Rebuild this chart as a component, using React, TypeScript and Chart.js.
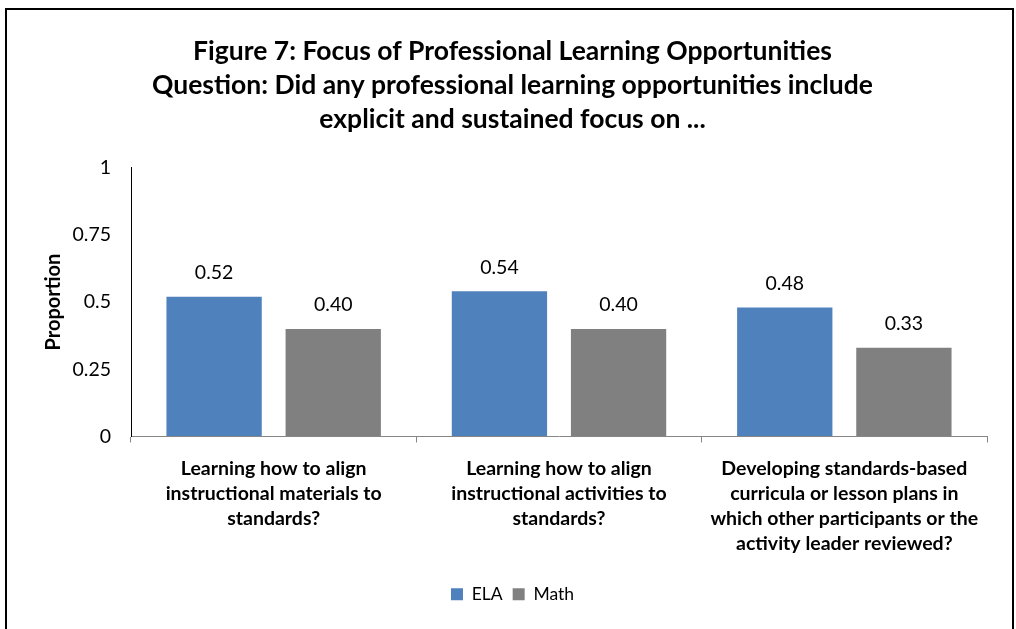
import React, { useEffect, useRef } from "react";
import { Chart, registerables } from "chart.js";

Chart.register(...registerables);

const titleLines = [
  "Figure 7: Focus of Professional Learning Opportunities",
  "Question: Did any professional learning opportunities include",
  "explicit and sustained focus on ...",
];
const categories = [
  ["Learning how to align", "instructional materials to", "standards?"],
  ["Learning how to align", "instructional activities to", "standards?"],
  [
    "Developing standards-based",
    "curricula or lesson plans in",
    "which other participants or the",
    "activity leader reviewed?",
  ],
];
const elaValues = [0.52, 0.54, 0.48];
const mathValues = [0.4, 0.4, 0.33];
const yTicks = [0, 0.25, 0.5, 0.75, 1];
const seriesNames = ["ELA", "Math"];

const FONT = "Lato, 'Open Sans', sans-serif";

const framePlugin = {
  id: "frame",
  afterDraw(chart: any) {
    const ctx = chart.ctx;
    ctx.save();
    ctx.strokeStyle = "#000";
    ctx.lineWidth = 2;
    ctx.strokeRect(6, 9, 1007, 640);
    ctx.restore();
  },
};

const valueLabelPlugin = {
  id: "valueLabels",
  afterDatasetsDraw(chart: any) {
    const ctx = chart.ctx;
    ctx.save();
    ctx.font = `19.5px ${FONT}`;
    ctx.fillStyle = "#000";
    ctx.textAlign = "center";
    ctx.textBaseline = "middle";
    chart.data.datasets.forEach((ds: any, i: number) => {
      const meta = chart.getDatasetMeta(i);
      meta.data.forEach((bar: any, j: number) => {
        ctx.fillText(Number(ds.data[j]).toFixed(2), bar.x, bar.y - 24);
      });
    });
    ctx.restore();
  },
};

export default function App() {
  const ref = useRef<HTMLCanvasElement>(null);
  useEffect(() => {
    if (!ref.current) return;
    const chart = new Chart(ref.current, {
      type: "bar",
      data: {
        labels: categories,
        datasets: [
          {
            label: seriesNames[0],
            data: elaValues,
            backgroundColor: "#4F81BD",
            barPercentage: 0.8,
            categoryPercentage: 0.835,
          },
          {
            label: seriesNames[1],
            data: mathValues,
            backgroundColor: "#808080",
            barPercentage: 0.8,
            categoryPercentage: 0.835,
          },
        ],
      },
      options: {
        responsive: false,
        animation: false,
        devicePixelRatio: 1,
        layout: { padding: { left: 38, right: 29, top: 0, bottom: 16 } },
        plugins: {
          title: {
            display: true,
            text: titleLines,
            color: "#000",
            font: { family: FONT, size: 26.5, weight: "bold", lineHeight: 1.29 },
            padding: { top: 34, bottom: 31 },
          },
          legend: {
            position: "bottom",
            labels: {
              boxWidth: 12,
              boxHeight: 12,
              color: "#000",
              font: { family: FONT, size: 17.5 },
              padding: 10,
            },
          },
          tooltip: { enabled: false },
        },
        scales: {
          x: {
            grid: {
              display: true,
              drawOnChartArea: false,
              drawTicks: true,
              tickLength: 6,
              color: "#868686",
              offset: true,
            },
            border: { color: "#868686", width: 1 },
            ticks: {
              color: "#000",
              font: { family: FONT, size: 19.5, weight: "bold", lineHeight: 1.28 },
              maxRotation: 0,
              autoSkip: false,
              padding: 14,
            },
            afterFit(scale: any) {
              scale.height = 139;
            },
          },
          y: {
            min: 0,
            max: 1,
            afterBuildTicks(scale: any) {
              scale.ticks = yTicks.map((v) => ({ value: v }));
            },
            grid: { display: true, drawOnChartArea: false, drawTicks: false },
            border: { color: "#000", width: 1 },
            ticks: {
              color: "#000",
              font: { family: FONT, size: 19.5 },
              padding: 20,
              callback: (v: any) => String(v),
            },
            title: {
              display: true,
              text: "Proportion",
              color: "#000",
              font: { family: FONT, size: 20, weight: "bold" },
              padding: 4,
            },
            afterFit(scale: any) {
              scale.width = 93;
            },
          },
        },
      },
      plugins: [valueLabelPlugin, framePlugin],
    });
    return () => chart.destroy();
  }, []);
  return (
    <canvas
      ref={ref}
      width={1016}
      height={629}
      style={{ position: "absolute", left: 0, top: 0, background: "#fff" }}
    />
  );
}
